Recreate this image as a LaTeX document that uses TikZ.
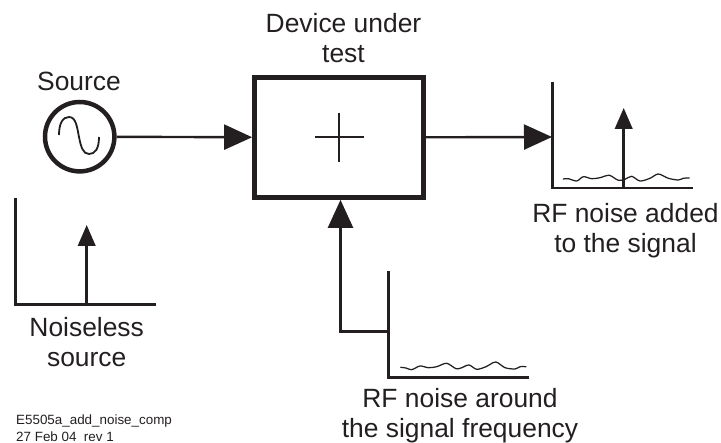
\documentclass[tikz,border=0pt]{standalone}
\usepackage{fontspec}
\setmainfont{Liberation Sans}
\usetikzlibrary{arrows.meta}
\definecolor{inkblack}{RGB}{35,31,32}

\begin{document}
\begin{tikzpicture}[x=1pt, y=-1pt, color=inkblack,
    label/.style={align=center, inner sep=0pt, font=\fontsize{26.4}{30}\selectfont},
    stamp/.style={align=left, anchor=west, inner sep=0pt, font=\fontsize{13.4}{16}\selectfont},
    dut/.style={draw, line width=4.7pt, minimum width=169pt, minimum height=120pt},
    source/.style={draw, circle, line width=4.5pt, minimum size=69.4pt, inner sep=0pt},
    wire/.style={line width=2.4pt},
    bigtip/.style={wire, -{Triangle[length=28pt, width=25pt]}},
    axes/.style={line width=2.5pt, line join=miter},
    spike/.style={line width=2.5pt, -{Triangle[length=21pt, width=17.5pt]}},
    noise/.style={line width=1.25pt, line cap=round, smooth}]
  \useasboundingbox (0,0) rectangle (721,443);
  % A pair of axes: #1 = name prefix, #2 = top of y axis, #3 = origin, #4 = end of x axis.
  \newcommand{\specaxes}[4]{%
    \coordinate (#1top) at #2;
    \coordinate (#1org) at #3;
    \coordinate (#1end) at #4;
    \draw[axes] (#1top) -- (#1org) -- (#1end);}

  \node[source] (src) at (79.7,136.7) {};
  \node[dut] (box) at (339,137.5) {};
  \draw[line width=1.8pt] (59,135) .. controls (59,123) and (63,117) .. (69,117)
    .. controls (76,117) and (77,127) .. (79,137)
    .. controls (81,147) and (83,154) .. (89,154)
    .. controls (95,154) and (99,149) .. (99,137);
  \draw[line width=2pt] (315,137) -- (364,137)  (339,113) -- (339,162);

  % source spectrum
  \specaxes{left}{(15.7,198)}{(15.7,304.7)}{(156,304.7)}
  \coordinate (leftfoot) at (86.7,304.7);
  \coordinate (lefttip) at (86.7,225);
  \draw[spike] (leftfoot) -- (lefttip);

  % output spectrum
  \specaxes{right}{(552.7,82)}{(552.7,188)}{(693,188)}
  \coordinate (rightin) at (552,137);
  \coordinate (rightfoot) at (623.7,188);
  \coordinate (righttip) at (623.7,108);
  \draw[spike] (rightfoot) -- (righttip);
  \draw[noise] plot coordinates {(563.3,179) (568.3,178.7) (576.7,181) (583.3,176.7) (591.7,178.7)
    (600,177.7) (609.3,175.3) (618.3,180.3) (625,179.3) (631.7,176.3) (640,181) (650,178.3)
    (658.3,174) (668.3,178.3) (678.3,180) (683.3,178.3) (689.3,178)};

  % noise spectrum
  \specaxes{low}{(388.3,271)}{(388.3,377.5)}{(529,377.5)}
  \coordinate (lowin) at (388.3,331.7);
  \draw[noise] plot coordinates {(400.7,367.3) (406,368) (411.7,369.7) (420,366) (428.3,367.7)
    (436.7,366.7) (446.7,363.3) (456,368.7) (461.7,367.7) (469,365) (476.7,369.3) (486,366.7)
    (495.7,362) (505,367.7) (515,369) (520,366.7) (526,366.7)};

  \draw[bigtip] (src) -- (box);
  \draw[bigtip] (box) -- (rightin);
  \draw[bigtip] (lowin) -| ([xshift=1.5pt]box.south);

  \node[label] (srclabel) at (79,81) {Source};
  \node[label] (boxlabel) at (343.5,38.2) {Device under\\test};
  \node[label] (leftlabel) at (86.7,342.1) {Noiseless\\source};
  \node[label] (rightlabel) at (625.5,230.8) {RF noise added\\to the signal};
  \node[label] (lowlabel) at (460,415.8) {RF noise around\\the signal frequency};
  \node[stamp] (stampa) at (16,421) {E5505a\_add\_noise\_comp};
  \node[stamp] (stampb) at (16,436.5) {27 Feb 04\ \ rev 1};
\end{tikzpicture}
\end{document}
